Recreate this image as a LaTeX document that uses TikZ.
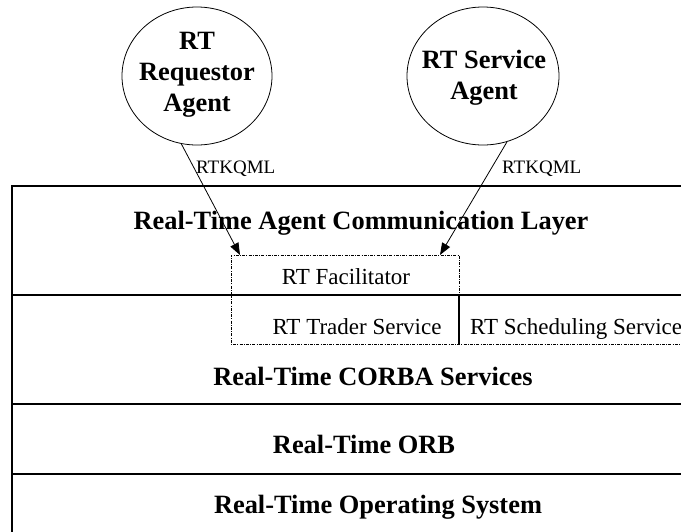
\documentclass[tikz,border=0pt]{standalone}
\usepackage{fontspec}
\setmainfont{Liberation Serif}
\usetikzlibrary{arrows.meta,shapes.geometric}
\begin{document}
\begin{tikzpicture}[x=1pt,y=-1pt,
  agent/.style={ellipse,draw,line width=0.8pt,inner sep=0pt},
  agenttext/.style={align=center,inner sep=0pt,font=\fontsize{26.4}{31}\selectfont\bfseries},
  layerline/.style={line width=1.1pt},
  dd/.style={line width=0.9pt,dash pattern=on 3pt off 1.2pt on 1pt off 1.2pt},
  big/.style={font=\fontsize{26.4}{31}\selectfont\bfseries,inner sep=0pt,anchor=base},
  mid/.style={font=\fontsize{23}{27}\selectfont,inner sep=0pt,anchor=base},
  small/.style={font=\fontsize{19}{22}\selectfont,inner sep=0pt,anchor=base west},
  msg/.style={line width=0.8pt,-{Triangle[length=12pt,width=9pt]}}
]
\useasboundingbox (0,0) rectangle (681,531);

% agents
\node[agent,minimum width=150pt,minimum height=138pt] (req) at (197,76) {};
\node[agenttext] (reqtext) at (197,75) {RT\\Requestor\\Agent};
\node[agent,minimum width=152pt,minimum height=138pt] (srv) at (483,76) {};
\node[agenttext] (srvtext) at (484,78) {RT Service\\Agent};

% layers
\draw[layerline] (690,186) -- (12,186) -- (12,540);
\foreach \yy in {295,404,474} \draw[layerline] (12,\yy) -- (690,\yy);

% dotted boxes
\draw[dd] (231,295) -- (231,255) -- (459,255) -- (459,295);
\draw[dd] (231,295) -- (231,344) -- (690,344);
\draw[dd] (459,295) -- (690,295);
\draw[line width=1.4pt] (231,295) -- (459,295);
\draw[line width=1.1pt] (459,295) -- (459,344);

% texts
\node[big] (acl) at (361,229) {Real-Time Agent Communication Layer};
\node[mid] (fac) at (346,284) {RT Facilitator};
\node[mid] (trader) at (357,334) {RT Trader Service};
\node[mid,anchor=base west] (sched) at (470,334) {RT Scheduling Service};
\node[big] (corba) at (373,385) {Real-Time CORBA Services};
\node[big] (orb) at (364,453) {Real-Time ORB};
\node[big] (os) at (378,513) {Real-Time Operating System};

% messages
\coordinate (tipL) at (240,255);
\coordinate (tipR) at (440,255);
\draw[msg] (req.257) -- (tipL);
\draw[msg] (srv.290) -- (tipR);
\node[small] (lblL) at (196,173) {RTKQML};
\node[small] (lblR) at (502,173) {RTKQML};
\end{tikzpicture}
\end{document}
